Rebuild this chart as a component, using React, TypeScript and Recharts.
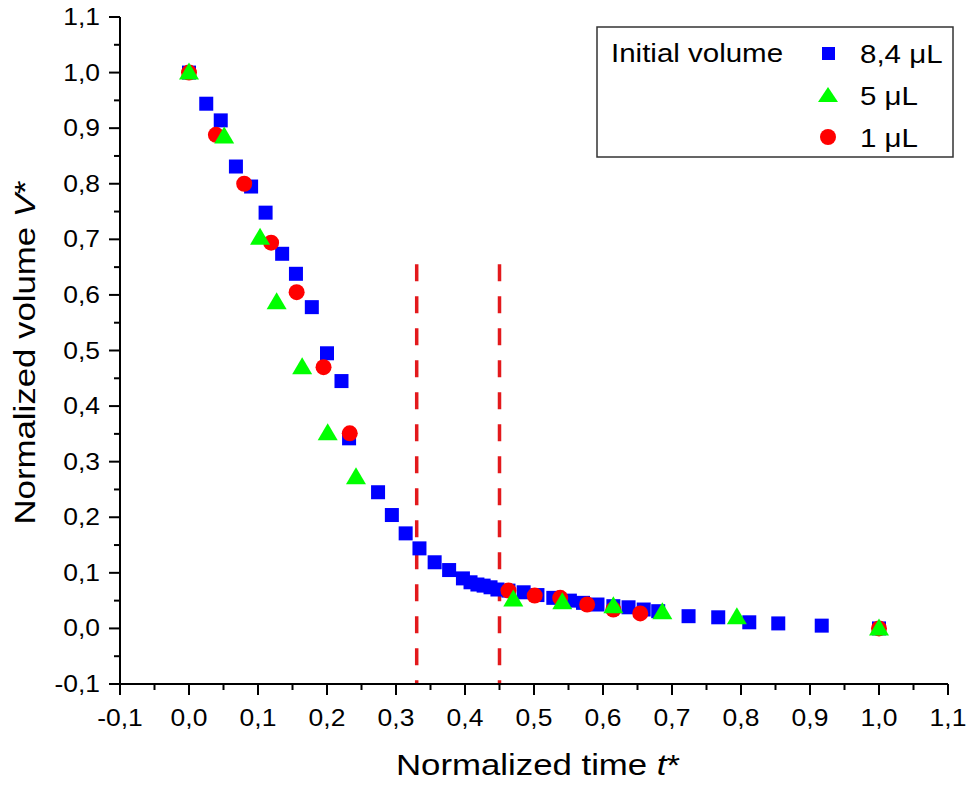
import React from 'react';
import { ScatterChart, Scatter, XAxis, YAxis, ReferenceLine } from 'recharts';

// 8,4 µL series
const t84 = [0, 0.025, 0.046, 0.068, 0.09, 0.111, 0.135, 0.155, 0.178, 0.2, 0.221, 0.232, 0.274, 0.294, 0.314, 0.334, 0.356, 0.377, 0.397, 0.408, 0.418, 0.427, 0.437, 0.447, 0.463, 0.485, 0.505, 0.528, 0.552, 0.571, 0.592, 0.615, 0.637, 0.659, 0.68, 0.724, 0.767, 0.812, 0.854, 0.917, 1.0];
const v84 = [1.0, 0.944, 0.914, 0.831, 0.795, 0.748, 0.674, 0.638, 0.578, 0.495, 0.445, 0.342, 0.245, 0.204, 0.171, 0.144, 0.119, 0.105, 0.09, 0.083, 0.079, 0.077, 0.074, 0.07, 0.068, 0.065, 0.06, 0.055, 0.05, 0.046, 0.043, 0.04, 0.038, 0.034, 0.031, 0.022, 0.02, 0.011, 0.009, 0.005, 0.0];

// 5 µL series
const t5 = [0, 0.051, 0.103, 0.127, 0.164, 0.201, 0.242, 0.47, 0.541, 0.615, 0.686, 0.794, 1.0];
const v5 = [1.0, 0.885, 0.703, 0.587, 0.47, 0.351, 0.272, 0.052, 0.047, 0.04, 0.029, 0.02, 0.0];

// 1 µL series
const t1 = [0, 0.039, 0.08, 0.119, 0.156, 0.195, 0.233, 0.463, 0.501, 0.538, 0.577, 0.615, 0.654, 1.0];
const v1 = [1.0, 0.888, 0.8, 0.694, 0.605, 0.47, 0.351, 0.068, 0.059, 0.055, 0.043, 0.034, 0.027, 0.0];

// axis ticks
const majorTicks = [-0.1, 0, 0.1, 0.2, 0.3, 0.4, 0.5, 0.6, 0.7, 0.8, 0.9, 1.0, 1.1];
const minorTicks = [-0.05, 0.05, 0.15, 0.25, 0.35, 0.45, 0.55, 0.65, 0.75, 0.85, 0.95, 1.05];
const allTicks = [...majorTicks, ...minorTicks].sort((a, b) => a - b);

// dashed markers
const dashedAt = [0.33, 0.45];
const dashedTop = 0.655;

const FONT = '"Liberation Sans", Arial, sans-serif';
const BLUE = '#0000ff';
const GREEN = '#00ff00';
const RED = '#ff0000';

const zip = (ts: number[], vs: number[]) => ts.map((t, i) => ({ t, v: vs[i] }));
const data84 = zip(t84, v84);
const data5 = zip(t5, v5);
const data1 = zip(t1, v1);

const fmt = (v: number) => v.toFixed(1).replace('.', ',');
const isMajor = (v: number) => Math.round(v * 20) % 2 === 0;

const XTick = (props: any) => {
  const { x, y, payload } = props;
  const v = payload.value;
  const major = isMajor(v);
  return (
    <g>
      <line x1={x} x2={x} y1={y} y2={y + (major ? 11 : 6)} stroke="#000" strokeWidth={2} />
      {major && (
        <text transform={`translate(${x},${y + 42}) scale(1.15,1)`} textAnchor="middle" fontSize={23} fontFamily={FONT} fill="#000">
          {fmt(v)}
        </text>
      )}
    </g>
  );
};

const YTick = (props: any) => {
  const { x, y, payload } = props;
  const v = payload.value;
  const major = isMajor(v);
  return (
    <g>
      <line x1={x} x2={x - (major ? 11 : 6)} y1={y} y2={y} stroke="#000" strokeWidth={2} />
      {major && (
        <text transform={`translate(${x - 20},${y + 8}) scale(1.15,1)`} textAnchor="end" fontSize={23} fontFamily={FONT} fill="#000">
          {fmt(v)}
        </text>
      )}
    </g>
  );
};

const Square = ({ cx, cy }: any) => <rect x={cx - 7} y={cy - 7} width={14} height={14} fill={BLUE} />;
const Triangle = ({ cx, cy }: any) => (
  <polygon points={`${cx},${cy - 10} ${cx + 10},${cy + 7} ${cx - 10},${cy + 7}`} fill={GREEN} />
);
const Dot = ({ cx, cy }: any) => <circle cx={cx} cy={cy} r={8} fill={RED} />;

const XTitle = (props: any) => {
  const vb = props.viewBox;
  const cx = vb.x + vb.width / 2 + 4;
  return (
    <text transform={`translate(${cx},${vb.y + 91}) scale(1.16,1)`} textAnchor="middle" fontSize={30} fontFamily={FONT} fill="#000">
      Normalized time <tspan fontStyle="italic">t</tspan>*
    </text>
  );
};

const YTitle = (props: any) => {
  const vb = props.viewBox;
  const cy = vb.y + vb.height / 2 + 2;
  return (
    <text transform={`translate(35,${cy}) rotate(-90) scale(1.16,1)`} textAnchor="middle" fontSize={30} fontFamily={FONT} fill="#000">
      Normalized volume <tspan fontStyle="italic">V</tspan>*
    </text>
  );
};

const legendItems = [
  { label: '8,4 μL', color: BLUE, kind: 'square' },
  { label: '5 μL', color: GREEN, kind: 'triangle' },
  { label: '1 μL', color: RED, kind: 'circle' },
];

const LegendBox = () => (
  <svg width={968} height={789} style={{ position: 'absolute', left: 0, top: 0, pointerEvents: 'none' }}>
    <rect x={597} y={27} width={356} height={130} fill="#fff" stroke="#333" strokeWidth={1.5} />
    <text transform="translate(611,62) scale(1.18,1)" fontSize={25} fontFamily={FONT} fill="#000">Initial volume</text>
    {legendItems.map((it, i) => {
      const cy = 53 + i * 42;
      return (
        <g key={it.label}>
          {it.kind === 'square' && <rect x={822} y={cy - 6} width={13} height={13} fill={it.color} />}
          {it.kind === 'triangle' && <polygon points={`828,${cy - 8} 838,${cy + 7} 818,${cy + 7}`} fill={it.color} />}
          {it.kind === 'circle' && <circle cx={828} cy={cy} r={8} fill={it.color} />}
          <text transform={`translate(860,${cy + 10}) scale(1.18,1)`} fontSize={25} fontFamily={FONT} fill="#000">{it.label}</text>
        </g>
      );
    })}
  </svg>
);

export default function App() {
  return (
    <div style={{ position: 'relative', width: 968, height: 789, background: '#fff' }}>
      <style>{'body{margin:0}'}</style>
      <ScatterChart width={968} height={789} margin={{ top: 17, right: 20, bottom: 0, left: 60 }}>
        <XAxis
          type="number"
          dataKey="t"
          domain={[-0.1, 1.1]}
          ticks={allTicks}
          interval={0}
          tick={<XTick />}
          tickLine={false}
          tickSize={0}
          tickMargin={0}
          height={105}
          axisLine={{ stroke: '#000', strokeWidth: 2 }}
          label={{ content: <XTitle /> }}
        />
        <YAxis
          type="number"
          dataKey="v"
          domain={[-0.1, 1.1]}
          ticks={allTicks}
          interval={0}
          tick={<YTick />}
          tickLine={false}
          tickSize={0}
          tickMargin={0}
          width={60}
          axisLine={{ stroke: '#000', strokeWidth: 2 }}
          label={{ content: <YTitle /> }}
        />
        {dashedAt.map((x) => (
          <ReferenceLine
            key={x}
            segment={[{ x, y: dashedTop }, { x, y: -0.1 }]}
            stroke="#e3191c"
            strokeWidth={3.5}
            strokeDasharray="17 15"
          />
        ))}
        <Scatter data={data84} fill={BLUE} shape={<Square />} isAnimationActive={false} />
        <Scatter data={data1} fill={RED} shape={<Dot />} isAnimationActive={false} />
        <Scatter data={data5} fill={GREEN} shape={<Triangle />} isAnimationActive={false} />
      </ScatterChart>
      <LegendBox />
    </div>
  );
}
